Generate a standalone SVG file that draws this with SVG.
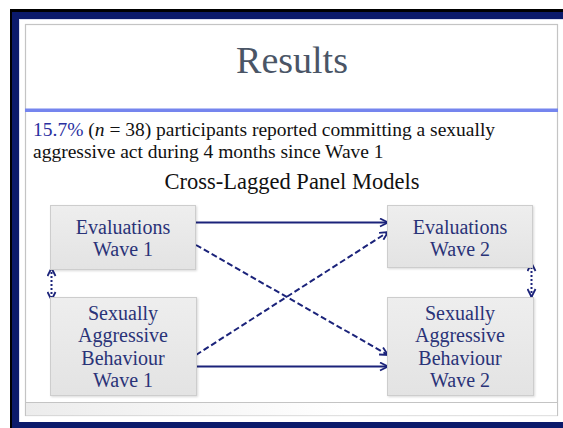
<svg xmlns="http://www.w3.org/2000/svg" width="563" height="428" viewBox="0 0 563 428">
<style>
.serif{font-family:"Liberation Serif","Times New Roman",serif}
.box{fill:url(#boxg);stroke:#cdcdcd;stroke-width:1}
.lbl{font-family:"Liberation Serif","Times New Roman",serif;font-size:20px;fill:#2a3378;text-anchor:middle}
.conn{stroke:#1b237a;stroke-width:2;fill:none}
.dash{stroke-dasharray:6 3}
.dot{stroke-dasharray:2 2}
</style>
<defs>
<linearGradient id="boxg" x1="0" y1="0" x2="0" y2="1">
<stop offset="0" stop-color="#eeeeee"/>
<stop offset="1" stop-color="#e3e3e3"/>
</linearGradient>
<linearGradient id="foot" x1="0" y1="0" x2="1" y2="0">
<stop offset="0" stop-color="#ececec"/>
<stop offset="0.6" stop-color="#ffffff"/>
</linearGradient>
<marker id="ah" viewBox="0 0 10 10" refX="9" refY="5" markerWidth="10" markerHeight="10" markerUnits="userSpaceOnUse" orient="auto-start-reverse">
<path d="M1,1 L9,5 L1,9" fill="none" stroke="#1b237a" stroke-width="1.8"/>
</marker>
<filter id="sh" x="-5%" y="-5%" width="115%" height="115%">
<feDropShadow dx="1" dy="1" stdDeviation="0.8" flood-color="#000" flood-opacity="0.15"/>
</filter>
</defs>
<rect width="563" height="428" fill="#ffffff"/>
<g id="frame">
<rect x="10" y="9" width="553" height="419" fill="#000000"/>
<rect x="12" y="12" width="551" height="416" fill="#0b1a6b"/>
<rect x="19" y="19" width="544" height="403" fill="#dcdff0"/>
<rect x="20" y="20" width="543" height="402" fill="#ffffff"/>
<rect x="25.5" y="24.5" width="532" height="391" fill="none" stroke="#c4c4c4" stroke-width="1.2"/>
<rect x="25" y="108.5" width="533" height="3.5" fill="#7585ee"/>
<rect x="26" y="403" width="531" height="12.5" fill="url(#foot)"/>
<line x1="25" y1="402.5" x2="557" y2="402.5" stroke="#c4c4c4" stroke-width="1.2"/>
</g>
<g id="title">
<text x="292" y="73" class="serif" font-size="38" fill="#4a5566" text-anchor="middle">Results</text>
</g>
<g id="body">
<text x="33" y="135.5" class="serif" font-size="19.5" fill="#111111"><tspan fill="#2a2fa0">15.7%</tspan> (<tspan font-style="italic">n</tspan> = 38) participants reported committing a sexually</text>
<text x="33" y="157.5" class="serif" font-size="19.5" fill="#111111">aggressive act during 4 months since Wave 1</text>
<text x="292" y="189" class="serif" font-size="22.5" fill="#111111" text-anchor="middle">Cross-Lagged Panel Models</text>
</g>
<g id="connectors">
<line class="conn" x1="196" y1="222.5" x2="388" y2="222.5" marker-end="url(#ah)"/>
<line class="conn" x1="197" y1="366.5" x2="388" y2="366.5" marker-end="url(#ah)"/>
<line class="conn dash" x1="196" y1="245" x2="388" y2="355" marker-end="url(#ah)"/>
<line class="conn dash" x1="196" y1="355" x2="388" y2="232" marker-end="url(#ah)"/>
<line class="conn dot" x1="51.5" y1="268" x2="51.5" y2="300" marker-start="url(#ah)" marker-end="url(#ah)"/>
<line class="conn dot" x1="531.5" y1="263" x2="531.5" y2="297" marker-start="url(#ah)" marker-end="url(#ah)"/>
</g>
<g id="eval-w1">
<rect class="box" x="50.5" y="205.5" width="145" height="64" filter="url(#sh)"/>
<text class="lbl" x="123" y="234">Evaluations</text>
<text class="lbl" x="123" y="256">Wave 1</text>
</g>
<g id="sab-w1">
<rect class="box" x="50.5" y="297.5" width="146" height="98" filter="url(#sh)"/>
<text class="lbl" x="123" y="320">Sexually</text>
<text class="lbl" x="123" y="342">Aggressive</text>
<text class="lbl" x="123" y="365">Behaviour</text>
<text class="lbl" x="123" y="387">Wave 1</text>
</g>
<g id="eval-w2">
<rect class="box" x="387.5" y="205.5" width="145" height="62" filter="url(#sh)"/>
<text class="lbl" x="460" y="234">Evaluations</text>
<text class="lbl" x="460" y="256">Wave 2</text>
</g>
<g id="sab-w2">
<rect class="box" x="387.5" y="297.5" width="146" height="98" filter="url(#sh)"/>
<text class="lbl" x="460" y="320">Sexually</text>
<text class="lbl" x="460" y="342">Aggressive</text>
<text class="lbl" x="460" y="365">Behaviour</text>
<text class="lbl" x="460" y="387">Wave 2</text>
</g>
</svg>
